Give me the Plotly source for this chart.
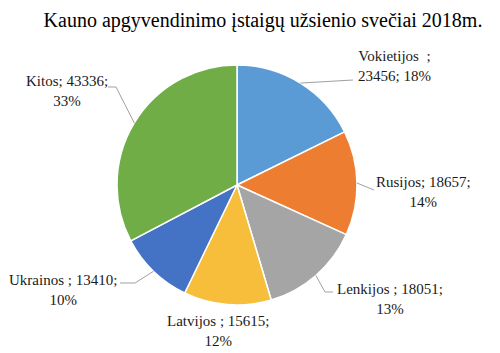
import math
import plotly.graph_objects as go

countries = ["Vokietijos ", "Rusijos", "Lenkijos ", "Latvijos ", "Ukrainos ", "Kitos"]
visitors = [23456, 18657, 18051, 15615, 13410, 43336]
percents = ["18%", "14%", "13%", "12%", "10%", "33%"]
colors = ["#5B9BD5", "#ED7D31", "#A5A5A5", "#F6BE3A", "#4472C4", "#70AD47"]

W, H = 500, 353
CX, CY, R = 237, 185, 120  # pie centre / radius in pixels (from top-left)
FONT = "'Liberation Serif', 'Times New Roman', Times, serif"

# label text centres (px) and leader elbow points
label_pos = [(394, 66), (423, 192), (390, 299), (218, 331), (63, 290), (67, 91)]
elbows = [None, None, (325, 292), None, (135, 283), (116, 87)]
ends = [(353, 80), (374, 190), (333, 292), None, (120, 283), (108, 87)]

def px(x, y):
    return x / W, (H - y) / H

fig = go.Figure()
fig.add_trace(go.Pie(
    labels=countries, values=visitors, sort=False, direction="clockwise", rotation=0,
    marker=dict(colors=colors, line=dict(color="white", width=1.5)),
    textinfo="none", hoverinfo="label+value+percent", showlegend=False,
    domain=dict(x=[(CX - R) / W, (CX + R) / W], y=[(H - CY - R) / H, (H - CY + R) / H]),
))

total = sum(visitors)
cum = 0
shapes = []
annotations = []
for i, v in enumerate(visitors):
    mid = (cum + v / 2) / total * 2 * math.pi
    cum += v
    ax, ay = CX + R * math.sin(mid), CY - R * math.cos(mid)
    lx, ly = label_pos[i]
    txt = f"{countries[i]}; {visitors[i]};<br>{percents[i]}"
    if i == 0:
        txt = f"{countries[i]} ;<br>{visitors[i]}; {percents[i]}"
    annotations.append(dict(x=lx / W, y=(H - ly) / H, xref="paper", yref="paper",
                            xanchor="center", yanchor="middle",
                            text=txt, showarrow=False, align="center",
                            font=dict(family=FONT, size=15, color="#1a1a1a")))
    if ends[i] is not None:
        pts = [(ax, ay)]
        if elbows[i] is not None:
            pts.append(elbows[i])
        pts.append(ends[i])
        path = "M " + " L ".join(f"{px(*p)[0]},{px(*p)[1]}" for p in pts)
        shapes.append(dict(type="path", path=path, xref="paper", yref="paper",
                           line=dict(color="#A0A0A0", width=1)))

fig.update_layout(
    width=W, height=H, margin=dict(l=0, r=0, t=0, b=0),
    paper_bgcolor="white", plot_bgcolor="white",
    title=dict(text="Kauno apgyvendinimo įstaigų užsienio svečiai 2018m.",
               x=263 / W, xanchor="center", y=(H - 20) / H, yanchor="middle",
               font=dict(family=FONT, size=20, color="black")),
    shapes=shapes, annotations=annotations,
)
fig.write_html("out.html")
